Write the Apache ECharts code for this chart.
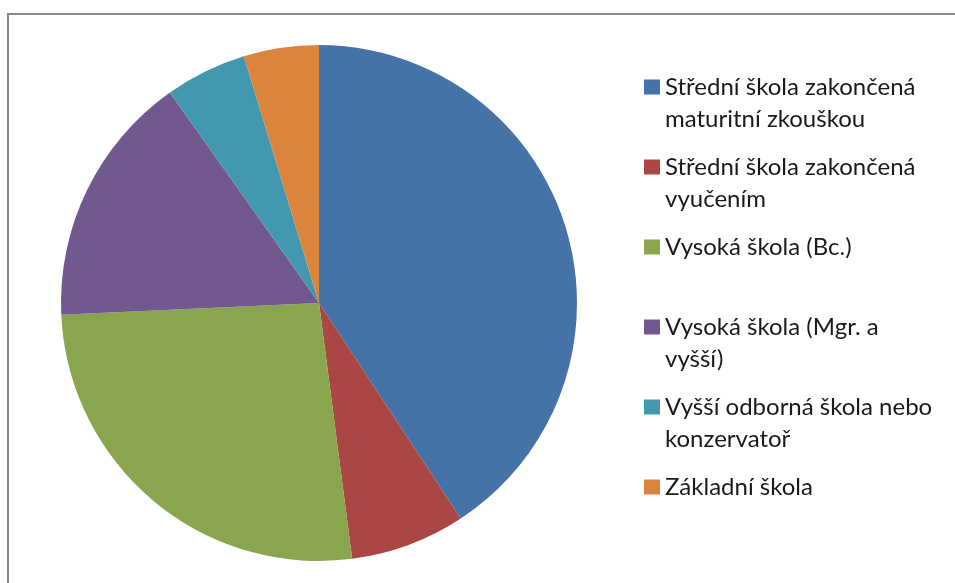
<!DOCTYPE html>
<html>
<head>
<meta charset="utf-8">
<script src="https://cdn.jsdelivr.net/npm/echarts@6/dist/echarts.min.js"></script>
<style>
  html, body { margin: 0; padding: 0; background: #fff; }
  #main { width: 955px; height: 583px; }
</style>
</head>
<body>
<div id="main"></div>
<script>
// education level shares (%)
var categories = [
  "Střední škola zakončená maturitní zkouškou",
  "Střední škola zakončená vyučením",
  "Vysoká škola (Bc.)",
  "Vysoká škola (Mgr. a vyšší)",
  "Vyšší odborná škola nebo konzervatoř",
  "Základní škola"
];
var values = [40.7, 7.2, 26.3, 15.9, 5.1, 4.7];
// how the legend text wraps in the original
var legendLines = [
  ["Střední škola zakončená", "maturitní zkouškou"],
  ["Střední škola zakončená", "vyučením"],
  ["Vysoká škola (Bc.)", " "],
  ["Vysoká škola (Mgr. a", "vyšší)"],
  ["Vyšší odborná škola nebo", "konzervatoř"],
  ["Základní škola"]
];
var colors = ["#4572A7", "#AA4643", "#89A54E", "#71588F", "#4198AF", "#DB843D"];

var rich = {
  t: { fontFamily: "Lato", fontSize: 24, lineHeight: 32, color: "#1a1a1a", padding: [0, 0, 0, 5] },
  s: { width: 16, height: 15, lineHeight: 32 }
};
colors.forEach(function (c, i) {
  rich["m" + i] = { width: 16, height: 15, lineHeight: 32, backgroundColor: c, verticalAlign: "middle" };
});

var myChart = echarts.init(document.getElementById("main"));
myChart.setOption({
  animation: false,
  color: colors,
  graphic: [{
    type: "rect",
    shape: { x: 8, y: 14, width: 1000, height: 1000 },
    style: { fill: "none", stroke: "#888888", lineWidth: 2 }
  }],
  legend: {
    orient: "vertical",
    left: 634,
    top: 70,
    itemWidth: 0,
    itemHeight: 0,
    itemGap: 24,
    selectedMode: false,
    formatter: function (name) {
      var i = categories.indexOf(name);
      var lines = legendLines[i];
      var out = "{m" + i + "|}{t|" + lines[0] + "}";
      if (lines[1]) out += "\n{s|}{t|" + lines[1] + "}";
      return out;
    },
    textStyle: { rich: rich }
  },
  series: [{
    type: "pie",
    center: [319, 303],
    radius: 258,
    startAngle: 90,
    clockwise: true,
    label: { show: false },
    labelLine: { show: false },
    itemStyle: { borderWidth: 0 },
    data: categories.map(function (c, i) {
      return { name: c, value: values[i] };
    })
  }]
});
</script>
</body>
</html>
